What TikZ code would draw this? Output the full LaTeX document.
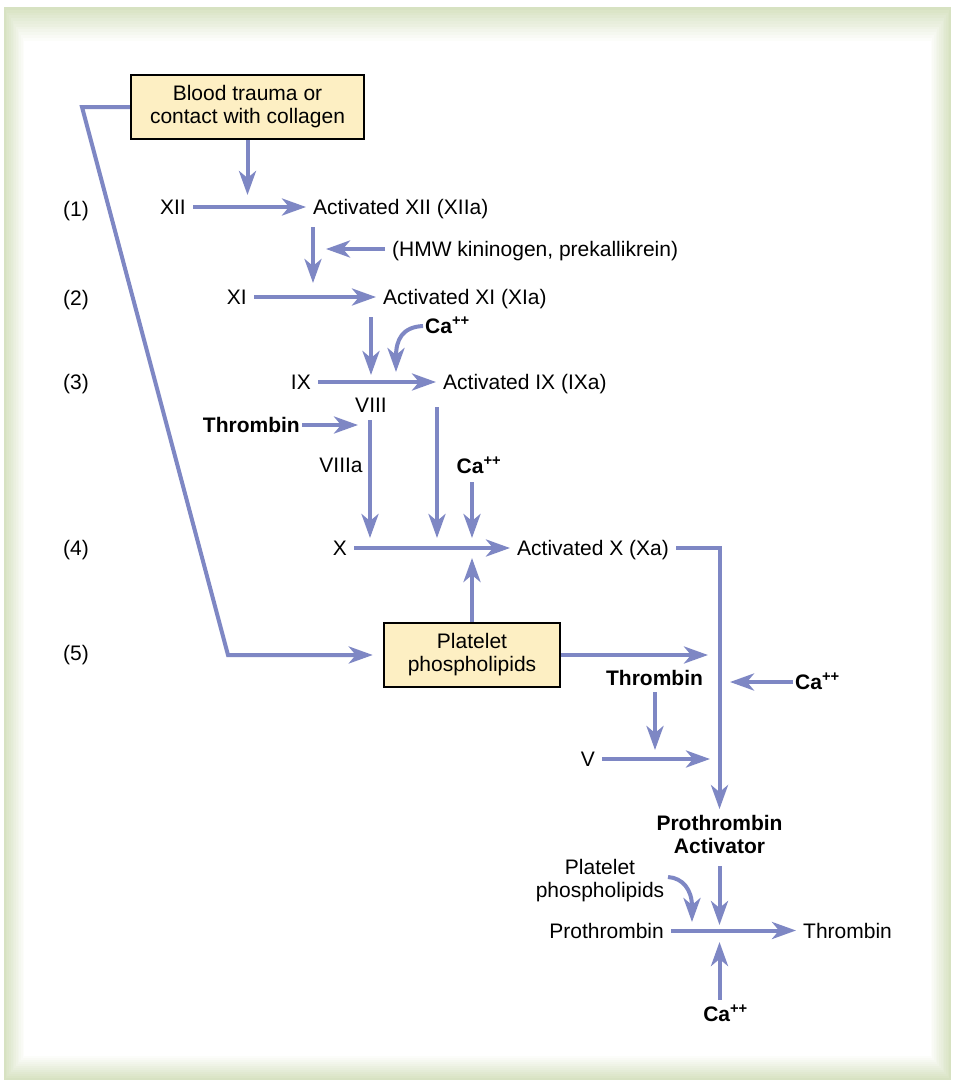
\documentclass[tikz,border=0pt]{standalone}
\usepackage{fontspec}
\setmainfont{Liberation Sans}
\usetikzlibrary{arrows.meta,calc,positioning}
\definecolor{cascBlue}{HTML}{7E87C4}
\definecolor{cascYellow}{HTML}{FDEFC3}
\definecolor{cascFrame}{HTML}{D7E2C2}
\tikzset{
  flow/.style={-{Stealth[length=24pt,width=17pt,inset=7pt]}, line width=4pt,
    draw=cascBlue},
  trigger box/.style={draw=black, line width=2.5pt, fill=cascYellow,
    align=center, font=\fontsize{21}{23}\selectfont, inner sep=0pt},
  factor/.style={font=\fontsize{21}{23}\selectfont, text height=15pt,
    text depth=0pt, inner xsep=7pt, inner ysep=0pt},
  agent/.style={factor, font=\fontsize{21}{23}\selectfont\bfseries,
    inner xsep=2pt},
  step no/.style={factor, anchor=west},
  caption/.style={font=\fontsize{21}{23}\selectfont, align=center,
    inner sep=0pt}
}
\newcommand{\calcium}{Ca\textsuperscript{++}}

\begin{document}
\begin{tikzpicture}[x=1pt,y=-1pt]
  \useasboundingbox (0,0) rectangle (955,1084);
  % soft green frame
  \fill[white] (0,0) rectangle (955,1084);
  \foreach \i in {0,...,12}{
    \pgfmathtruncatemacro{\tint}{100-\i*100/12}
    \fill[cascFrame!\tint!white] ({4+1.7*\i},{7+2.8*\i})
      rectangle ({951-1.7*\i},{1080-2*\i});
  }
  % boxes
  \node[trigger box, minimum width=233pt, minimum height=64pt] (trauma)
    at (247.5,107) {Blood trauma or\\contact with collagen};
  \node[trigger box, minimum width=176pt, minimum height=64pt] (plt)
    at (472,655) {Platelet\\phospholipids};
  % step numbers
  \foreach \n/\y in {1/208.5, 2/297.5, 3/381.5, 4/547.5, 5/652.5}
    \node[step no] (n\n) at (56,\y) {(\n)};
  % factors
  \node[factor, anchor=east] (fxii) at (193,207) {XII};
  \node[factor, anchor=west] (fxiia) at (306,207) {Activated XII (XIIa)};
  \node[factor, anchor=west] (hmw) at (385,249) {(HMW kininogen, prekallikrein)};
  \node[factor, anchor=east] (fxi) at (254,297) {XI};
  \node[factor, anchor=west] (fxia) at (376,297) {Activated XI (XIa)};
  \node[agent, anchor=west] (ca1) at (423,326) {\calcium};
  \node[factor, anchor=east] (fix) at (318,382) {IX};
  \node[factor, anchor=west] (fixa) at (436,382) {Activated IX (IXa)};
  \node[factor] (fviii) at (371,404.5) {VIII};
  \node[agent, anchor=east] (thr1) at (302,425) {Thrombin};
  \node[factor] (fviiia) at (341,464.5) {VIIIa};
  \node[agent] (ca2) at (479,465.5) {\calcium};
  \node[factor, anchor=east] (fx) at (354,548) {X};
  \node[factor, anchor=west] (fxa) at (510,548) {Activated X (Xa)};
  \node[agent] (thr2) at (654.5,677.5) {Thrombin};
  \node[factor, anchor=east] (fv) at (602,759) {V};
  \node[agent, anchor=west] (ca3) at (793,682) {\calcium};
  \node[caption, font=\fontsize{21}{23}\selectfont\bfseries, inner ysep=6pt]
    (protact) at (719.5,834.5) {Prothrombin\\Activator};
  \node[caption] (pp) at (600,881) {Platelet\\phospholipids};
  \node[factor, anchor=east] (prothr) at (671,930.5) {Prothrombin};
  \node[factor, anchor=west] (thr3) at (796,930.5) {Thrombin};
  \node[agent] (ca4) at (725.5,1013.5) {\calcium};
  % arrow ends
  \coordinate (jxii) at (247.5,195);
  \coordinate (jhmw) at (326,249);
  \coordinate (dxiia) at (313,227); \coordinate (jxi) at (313,283);
  \coordinate (dxia) at (371,317); \coordinate (jix) at (371,375);
  \coordinate (jca1) at (396,372);
  \coordinate (jthr1) at (358,425);
  \coordinate (dviii) at (370,420); \coordinate (jx1) at (370,538);
  \coordinate (dixa) at (437,407); \coordinate (jx2) at (437,538);
  \coordinate (dca2) at (472,482); \coordinate (jx3) at (472,538);
  \coordinate (jx4) at (472,558);
  \coordinate (kink1) at (82,107); \coordinate (kink2) at (228,655);
  \coordinate (jplt) at (708,655);
  \coordinate (dthr2) at (655,692); \coordinate (jv) at (655,750);
  \coordinate (jv2) at (710,759);
  \coordinate (jca3) at (730,682);
  \coordinate (dprot) at (719.5,866); \coordinate (jprot) at (719.5,925);
  \coordinate (dpp) at (668,877); \coordinate (jpp) at (692,922);
  \coordinate (dca4) at (719.5,1000); \coordinate (jca4) at (719.5,942);
  % connectors
  \draw[flow] (trauma) -- (jxii);
  \draw[flow] (fxii) -- (fxiia);
  \draw[flow] (dxiia) -- (jxi);
  \draw[flow] (hmw) -- (jhmw);
  \draw[flow] (fxi) -- (fxia);
  \draw[flow] (dxia) -- (jix);
  \draw[flow] (ca1.west) .. controls (402,327) and (396,340) .. (jca1);
  \draw[flow] (fix) -- (fixa);
  \draw[flow] (thr1) -- (jthr1);
  \draw[flow] (dviii) -- (jx1);
  \draw[flow] (dixa) -- (jx2);
  \draw[flow] (dca2) -- (jx3);
  \draw[flow] (fx) -- (fxa);
  \draw[flow] (plt) -- (jx4);
  \draw[flow, shorten >=10pt] (trauma.west) -- (kink1) -- (kink2)
    -- (kink2 -| plt.west);
  \draw[flow] (fxa.east) -| (protact.north);
  \draw[flow] (plt) -- (jplt);
  \draw[flow] (dthr2) -- (jv);
  \draw[flow] (fv) -- (jv2);
  \draw[flow] (ca3) -- (jca3);
  \draw[flow] (dprot) -- (jprot);
  \draw[flow] (dpp) .. controls (683,878) and (692,890) .. (jpp);
  \draw[flow] (prothr) -- (thr3);
  \draw[flow] (dca4) -- (jca4);
\end{tikzpicture}
\end{document}
